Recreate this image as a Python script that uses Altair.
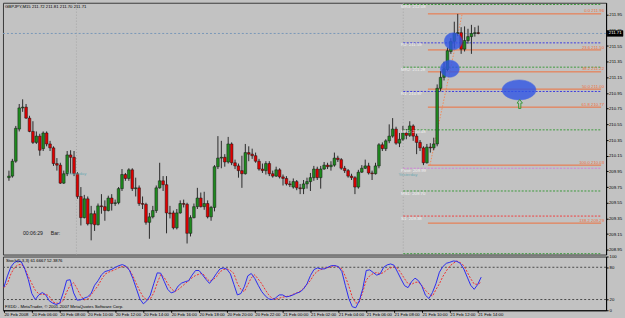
import json
import altair as alt
import pandas as pd

# ---------------- data ----------------
bar_index = list(range(138))  # M15 bars from 20 Feb 2008 04:00

opens = [
    209.87, 209.89, 210.08, 210.49, 210.76, 210.77, 210.63, 210.46, 210.32, 210.40,
    210.24, 210.44, 210.30, 210.25, 210.05, 210.03, 209.80, 209.92, 210.16, 210.13,
    209.92, 209.63, 209.36, 209.60, 209.28, 209.41, 209.27, 209.51, 209.50, 209.45,
    209.61, 209.54, 209.55, 209.73, 209.91, 209.86, 209.97, 209.73, 209.74, 209.54,
    209.53, 209.30, 209.37, 209.45, 209.74, 209.83, 209.78, 209.42, 209.42, 209.23,
    209.42, 209.54, 209.53, 209.16, 209.36, 209.50, 209.61, 209.50, 209.54, 209.37,
    209.49, 210.01, 210.12, 210.13, 210.07, 210.30, 210.06, 210.02, 209.96, 209.92,
    210.19, 210.17, 210.15, 210.08, 209.98, 209.96, 210.05, 209.92, 209.89, 209.97,
    209.88, 209.86, 209.79, 209.75, 209.82, 209.74, 209.73, 209.79, 209.82, 209.87,
    209.98, 209.87, 209.98, 210.03, 210.01, 210.03, 210.12, 210.10, 209.99, 209.96,
    209.89, 209.87, 209.75, 209.94, 209.99, 210.02, 209.93, 209.92, 210.02, 210.29,
    210.24, 210.34, 210.40, 210.49, 210.31, 210.36, 210.44, 210.41, 210.53, 210.40,
    210.32, 210.25, 210.06, 210.26, 210.25, 210.30, 211.01, 211.15, 211.25, 211.48,
    211.61, 211.71, 211.72, 211.51, 211.62, 211.67, 211.71, 211.72]
highs = [
    209.96, 210.11, 210.53, 210.81, 210.87, 210.81, 210.66, 210.59, 210.46, 210.43,
    210.46, 210.46, 210.34, 210.27, 210.12, 210.06, 209.96, 210.21, 210.22, 210.21,
    209.94, 209.75, 209.65, 209.63, 209.51, 209.45, 209.54, 209.66, 209.58, 209.64,
    209.66, 209.59, 209.75, 209.98, 209.93, 209.99, 209.99, 209.87, 209.77, 209.63,
    209.55, 209.42, 209.51, 209.77, 210.06, 209.89, 209.89, 209.51, 209.45, 209.47,
    209.58, 209.59, 209.55, 209.39, 209.54, 209.74, 209.68, 209.69, 209.58, 209.51,
    210.03, 210.40, 210.34, 210.17, 210.39, 210.32, 210.10, 210.05, 210.15, 210.30,
    210.27, 210.24, 210.19, 210.11, 210.05, 210.08, 210.08, 209.96, 210.01, 209.99,
    209.91, 209.89, 209.83, 209.86, 209.84, 209.79, 209.84, 209.87, 209.93, 210.02,
    210.01, 210.02, 210.07, 210.06, 210.08, 210.19, 210.15, 210.12, 210.02, 209.98,
    209.92, 209.89, 209.97, 210.03, 210.10, 210.06, 209.96, 210.06, 210.31, 210.32,
    210.36, 210.55, 210.63, 210.52, 210.44, 210.53, 210.49, 210.59, 210.55, 210.43,
    210.35, 210.27, 210.30, 210.31, 210.38, 211.06, 211.23, 211.35, 211.53, 211.65,
    211.86, 211.96, 211.79, 211.80, 211.77, 211.82, 211.79, 211.81]
lows = [
    209.83, 209.87, 210.06, 210.46, 210.71, 210.62, 210.45, 210.30, 210.30, 210.15,
    210.21, 210.27, 210.21, 210.02, 209.96, 209.79, 209.79, 209.89, 209.92, 209.89,
    209.60, 209.26, 209.35, 209.26, 209.07, 209.19, 209.26, 209.41, 209.32, 209.44,
    209.45, 209.51, 209.53, 209.70, 209.83, 209.83, 209.70, 209.63, 209.51, 209.47,
    209.27, 209.09, 209.35, 209.42, 209.73, 209.70, 209.16, 209.35, 209.21, 209.21,
    209.41, 209.49, 209.03, 209.12, 209.35, 209.47, 209.49, 209.46, 209.35, 209.32,
    209.44, 209.98, 209.99, 210.01, 210.05, 210.03, 209.98, 209.87, 209.74, 209.91,
    210.08, 210.11, 210.06, 209.96, 209.93, 209.91, 209.89, 209.87, 209.88, 209.86,
    209.77, 209.77, 209.75, 209.73, 209.71, 209.66, 209.66, 209.73, 209.70, 209.83,
    209.84, 209.73, 209.97, 209.98, 209.96, 210.01, 210.07, 209.97, 209.93, 209.87,
    209.84, 209.66, 209.73, 209.93, 209.98, 209.91, 209.84, 209.91, 209.99, 210.21,
    210.21, 210.31, 210.38, 210.29, 210.26, 210.34, 210.36, 210.39, 210.34, 210.17,
    210.21, 210.03, 210.05, 210.19, 210.22, 210.27, 210.97, 211.11, 211.23, 211.45,
    211.52, 211.68, 211.45, 211.48, 211.58, 211.45, 211.67, 211.70]
closes = [
    209.89, 210.08, 210.50, 210.76, 210.77, 210.63, 210.46, 210.32, 210.40, 210.22,
    210.44, 210.30, 210.25, 210.05, 210.03, 209.80, 209.92, 210.16, 210.13, 209.92,
    209.63, 209.36, 209.60, 209.28, 209.41, 209.27, 209.51, 209.50, 209.45, 209.61,
    209.54, 209.55, 209.73, 209.91, 209.86, 209.97, 209.73, 209.74, 209.54, 209.53,
    209.30, 209.37, 209.45, 209.74, 209.83, 209.78, 209.42, 209.41, 209.23, 209.42,
    209.54, 209.53, 209.16, 209.36, 209.50, 209.61, 209.50, 209.54, 209.37, 209.49,
    210.01, 210.12, 210.13, 210.07, 210.30, 210.06, 210.02, 209.96, 209.92, 210.19,
    210.17, 210.15, 210.08, 209.98, 209.96, 210.05, 209.92, 209.89, 209.97, 209.88,
    209.86, 209.79, 209.78, 209.82, 209.74, 209.73, 209.79, 209.82, 209.87, 209.98,
    209.87, 209.98, 210.03, 210.01, 210.03, 210.12, 210.10, 209.99, 209.96, 209.89,
    209.87, 209.75, 209.94, 209.99, 210.02, 209.93, 209.92, 210.02, 210.29, 210.24,
    210.34, 210.40, 210.49, 210.31, 210.36, 210.44, 210.41, 210.53, 210.40, 210.32,
    210.25, 210.06, 210.26, 210.25, 210.30, 211.01, 211.15, 211.26, 211.49, 211.61,
    211.71, 211.72, 211.51, 211.62, 211.67, 211.71, 211.72, 211.71]

stoch_main = [
    43.3, 64, 81, 89, 91.7, 90, 76.4, 56.8, 31, 20,
    28.6, 33, 28.6, 17.6, 13.3, 10.8, 13.3, 32.3, 55.6, 56.8,
    32.3, 18.8, 19.4, 22.5, 24.9, 31, 46.4, 55, 66, 72,
    74, 76.4, 80, 83.1, 85, 82, 74.6, 59.2, 40.2, 21.2,
    12, 17.6, 28, 49.4, 69.6, 69, 53.7, 39, 32.3, 34.7,
    45.1, 50.6, 53.1, 55, 65.4, 74, 74, 66, 57.4, 50,
    58.6, 68.4, 77, 78.8, 76.4, 67.8, 48.2, 28.6, 31.1, 43.9,
    64.1, 68.4, 59.2, 46.4, 34.7, 26.8, 21.2, 20, 23.1, 28.6,
    28.6, 24.9, 26.1, 28.6, 31.7, 34.1, 39.6, 49.4, 64.7, 75.8,
    78.8, 77, 77, 80, 83.1, 83.1, 81.3, 72, 46.4, 21.9,
    6.5, 4.7, 17.6, 40.2, 74, 75.2, 70.3, 65.4, 67.8, 80,
    84.4, 86.2, 83.7, 70.9, 58, 45.8, 42.1, 53.1, 59.8, 55,
    44.5, 28, 21.9, 33, 49.4, 70.9, 81.3, 87.4, 89.3, 91.7,
    91, 87.4, 77, 61.7, 46.4, 39, 48, 61.67]
stoch_signal = [
    42.1, 50, 67.8, 79.4, 84.4, 85.6, 77.6, 62.9, 49.4, 37.2,
    30.4, 29.2, 30.4, 26.1, 15.7, 13.3, 12.7, 18.2, 34.1, 46.4,
    51.3, 40.2, 27.4, 19.4, 20.6, 28.6, 37.2, 45.8, 57.4, 67.2,
    70.9, 73.3, 75.8, 79.4, 81.3, 81.3, 75.8, 64.1, 49.4, 36,
    24.3, 19.4, 21.2, 32.3, 50.6, 66.6, 61.1, 49.4, 40.2, 34.7,
    38.4, 43.9, 49.4, 55, 60.5, 64.7, 67.2, 69, 60.5, 54.3,
    56.8, 62.3, 71.5, 75.8, 77, 74, 68.4, 50, 39, 34.7,
    47.6, 60.5, 66, 58, 49.4, 38.4, 28.6, 21.9, 20.6, 22.5,
    24.3, 25.5, 26.8, 29.8, 32.3, 35.3, 40.8, 48.2, 55.6, 66.6,
    72.7, 75.8, 78.2, 79.4, 80.7, 83.1, 80, 77, 62.9, 45.1,
    24.3, 13.3, 15.1, 34.1, 56.2, 64.1, 68.4, 70.3, 67.8, 70.3,
    75.8, 78.8, 81.3, 78.2, 69, 58.6, 49.4, 48.2, 51.9, 52.5,
    45.8, 37.2, 30.4, 26.1, 38.4, 49.4, 62.9, 73.3, 82.5, 87.4,
    91.7, 88.6, 83.1, 70.9, 58.6, 48.8, 48.2, 52.39]

time_labels = ["20 Feb 2008", "20 Feb 06:00", "20 Feb 08:00", "20 Feb 10:00",
               "20 Feb 12:00", "20 Feb 14:00", "20 Feb 16:00", "20 Feb 18:00",
               "20 Feb 20:00", "20 Feb 22:00", "21 Feb 00:00", "21 Feb 02:00",
               "21 Feb 04:00", "21 Feb 06:00", "21 Feb 08:00", "21 Feb 10:00",
               "21 Feb 12:00", "21 Feb 14:00"]
time_label_bars = [0, 8, 16, 24, 32, 40, 48, 56, 64, 72, 80, 88, 96, 104, 112, 120, 128, 136]

price_ticks = [211.95, 211.75, 211.55, 211.35, 211.15, 210.95, 210.75, 210.55,
               210.35, 210.15, 209.95, 209.75, 209.55, 209.35, 209.15, 208.95]
stoch_ticks = [0, 20, 80, 100]
stoch_levels = [20, 80]

pivot_names = ["MR3", "R2", "MR2", "R1", "MR1", "Pivot", "MS1", "S1", "MS2"]
pivot_levels = [212.08, 211.59, 211.28, 210.97, 210.48, 209.99, 209.70, 209.38, 208.90]
pivot_kinds = ["mid", "res", "mid", "res", "mid", "piv", "mid", "sup", "mid"]
pivot_start_bar = 115.1

fib_ratios = ["0.0", "23.6", "38.2", "50.0", "61.8", "100.0", "138.2"]
fib_levels = [211.96, 211.50, 211.22, 211.00, 210.77, 210.03, 209.29]
fib_start_bar = 122.3
fib_trend_bars = [122.9, 132.3]
fib_trend_prices = [210.03, 211.96]

separator_bars = [19.7, 115.1]
ellipse_bars = [129.7, 128.7, 148.9]
ellipse_prices = [211.61, 211.26, 210.99]
arrow_bar = 149.1
arrow_price = 210.81
bid_price = 211.71
yesterday_bars = [17.1, 113.7]
yesterday_prices = [209.92, 209.91]

title_text = "GBPJPY,M15  211.72 211.81 211.70 211.71"
stoch_text = "Stoch(5,3,3) 61.6667 52.3876"
copyright_text = "FXDD - MetaTrader, \u00a9 2001-2007 MetaQuotes Software Corp."

# ---------------- chart ----------------
X_DOMAIN = [-0.286, 172.857]
PRICE_DOMAIN = [208.889, 212.102]
W = 606
MAIN_H = 253
STOCH_H = 54
FONT = "Liberation Sans"
FS = 4.3
BG = "#C2C2C2"

xs = alt.Scale(domain=X_DOMAIN, nice=False, zero=False)
ys = alt.Scale(domain=PRICE_DOMAIN, nice=False, zero=False)
sys_ = alt.Scale(domain=[0, 100], nice=False, zero=False)

# right-aligned labels so that their bounds never push past the window edge
price_axis = alt.Axis(orient="right", values=price_ticks, format=".2f", title=None,
                      grid=False, labelFontSize=FS, labelColor="#000000", tickSize=2,
                      tickColor="#000000", domainColor="#000000", labelPadding=13.5,
                      labelAlign="right", labelFont=FONT, labelOverlap=False,
                      labelFlush=False, labelBound=False)
xnone = alt.X("bar:Q", scale=xs, axis=None)

candles = pd.DataFrame({"bar": bar_index, "open": opens, "high": highs,
                        "low": lows, "close": closes})
candles["dir"] = ["up" if c >= o else "down" for o, c in zip(opens, closes)]

seps = alt.Chart(pd.DataFrame({"bar": separator_bars})).mark_rule(
    color="#A6A6A6", strokeDash=[1, 2], strokeWidth=1).encode(x=xnone)

bid = alt.Chart(pd.DataFrame({"p": [bid_price]})).mark_rule(
    color="#7A98B8", strokeDash=[2, 2], strokeWidth=1).encode(
    y=alt.Y("p:Q", scale=ys, axis=price_axis))

piv = pd.DataFrame({"name": pivot_names, "level": pivot_levels, "kind": pivot_kinds})
piv["start"] = pivot_start_bar
piv["end"] = X_DOMAIN[1]
piv["label"] = [f"{n}: {v:.2f}" for n, v in zip(pivot_names, pivot_levels)]
piv_color = alt.Scale(domain=["mid", "res", "piv", "sup"],
                      range=["#3C9A3C", "#3A3AE0", "#D080D8", "#F04040"])
pivot_lines = alt.Chart(piv).mark_rule(strokeDash=[2, 1.5], strokeWidth=1).encode(
    x=alt.X("start:Q", scale=xs, axis=None), x2="end:Q",
    y=alt.Y("level:Q", scale=ys, axis=price_axis),
    color=alt.Color("kind:N", scale=piv_color, legend=None))
pivot_text = alt.Chart(piv[piv["name"] != "MS2"]).mark_text(
    align="left", baseline="top", dy=0.6, fontSize=FS, font=FONT, color="#F2F2F2").encode(
    x=alt.value(400), y=alt.Y("level:Q", scale=ys, axis=price_axis), text="label:N")

fib = pd.DataFrame({"ratio": fib_ratios, "level": fib_levels})
fib["start"] = fib_start_bar
fib["end"] = X_DOMAIN[1]
fib["label"] = [f"{r}  {v:.2f}" for r, v in zip(fib_ratios, fib_levels)]
fib_lines = alt.Chart(fib).mark_rule(color="#F0703C", strokeWidth=1).encode(
    x=alt.X("start:Q", scale=xs, axis=None), x2="end:Q",
    y=alt.Y("level:Q", scale=ys, axis=price_axis))
fib_text = alt.Chart(fib).mark_text(
    align="right", baseline="bottom", dy=-0.4, fontSize=FS, font=FONT, color="#F0703C").encode(
    x=alt.value(604), y=alt.Y("level:Q", scale=ys, axis=price_axis), text="label:N")
fib_trend = alt.Chart(pd.DataFrame({"bar": fib_trend_bars, "p": fib_trend_prices})).mark_line(
    color="#F08A5A", strokeDash=[1.5, 1.5], strokeWidth=1).encode(
    x=xnone, y=alt.Y("p:Q", scale=ys, axis=price_axis))

wicks = alt.Chart(candles).mark_rule(color="#2A2A2A", strokeWidth=1).encode(
    x=xnone, y=alt.Y("low:Q", scale=ys, axis=price_axis), y2="high:Q")
bodies = alt.Chart(candles).mark_bar(size=2.7, stroke="#141414", strokeWidth=0.5).encode(
    x=xnone, y=alt.Y("open:Q", scale=ys, axis=price_axis), y2="close:Q",
    fill=alt.Fill("dir:N", scale=alt.Scale(domain=["up", "down"],
                                           range=["#1E8A1E", "#E00000"]), legend=None))

ell_df = pd.DataFrame({"bar": ellipse_bars, "p": ellipse_prices})
ellipse_shapes = [("M -1 0 A 1 0.95 0 1 0 1 0 A 1 0.95 0 1 0 -1 0 Z", 324),
                  ("M -1 0 A 1 0.9 0 1 0 1 0 A 1 0.9 0 1 0 -1 0 Z", 361),
                  ("M -1 0 A 1 0.59 0 1 0 1 0 A 1 0.59 0 1 0 -1 0 Z", 1156)]
ellipses = []
for i, (shape, size) in enumerate(ellipse_shapes):
    ellipses.append(alt.Chart(ell_df.iloc[[i]]).mark_point(
        shape=shape, size=size, filled=True, fill="#2F55E6", opacity=0.8,
        stroke="#2F55E6", strokeWidth=0.5).encode(
        x=xnone, y=alt.Y("p:Q", scale=ys, axis=price_axis)))

arrow = alt.Chart(pd.DataFrame({"bar": [arrow_bar], "p": [arrow_price]})).mark_point(
    shape="M 0 -1 L 0.6 -0.2 L 0.25 -0.2 L 0.25 1 L -0.25 1 L -0.25 -0.2 L -0.6 -0.2 Z",
    size=81, filled=False, stroke="#3C9A3C", strokeWidth=1, opacity=1).encode(
    x=xnone, y=alt.Y("p:Q", scale=ys, axis=price_axis))

yest = alt.Chart(pd.DataFrame({"bar": yesterday_bars, "p": yesterday_prices,
                               "t": ["Yesterday", "Yesterday"]})).mark_text(
    align="left", baseline="middle", fontSize=FS, font=FONT, color="#6FAAB2").encode(
    x=xnone, y=alt.Y("p:Q", scale=ys, axis=price_axis), text="t:N")

price_box = alt.Chart(pd.DataFrame({"p": [bid_price]})).mark_point(
    shape="M -1 -0.36 L 1 -0.36 L 1 0.36 L -1 0.36 Z", size=256, filled=True,
    fill="#000000", stroke="#000000", strokeWidth=0.5, opacity=1).encode(
    x=alt.value(615), y=alt.Y("p:Q", scale=ys, axis=price_axis))
price_box_text = alt.Chart(pd.DataFrame({"p": [bid_price], "t": [f"{bid_price:.2f}"]})).mark_text(
    align="right", baseline="middle", fontSize=FS, font=FONT, color="#FFFFFF").encode(
    x=alt.value(621.5), y=alt.Y("p:Q", scale=ys, axis=price_axis), text="t:N")

title_mark = alt.Chart(pd.DataFrame({"t": [title_text]})).mark_text(
    align="left", baseline="middle", fontSize=FS, font=FONT, color="#000000").encode(
    x=alt.value(2), y=alt.value(4), text="t:N")
timer_mark = alt.Chart(pd.DataFrame({"t": ["00:06:29"]})).mark_text(
    align="left", baseline="middle", fontSize=5.2, font=FONT, color="#1A1A1A").encode(
    x=alt.value(20), y=alt.value(231), text="t:N")
bar_mark = alt.Chart(pd.DataFrame({"t": ["Bar:"]})).mark_text(
    align="left", baseline="middle", fontSize=5.2, font=FONT, color="#1A1A1A").encode(
    x=alt.value(48), y=alt.value(231), text="t:N")

main = alt.layer(seps, bid, pivot_lines, fib_lines, fib_trend, wicks, bodies,
                 *ellipses, arrow, pivot_text, fib_text, yest, price_box,
                 price_box_text, title_mark, timer_mark, bar_mark).properties(
    width=W, height=MAIN_H)

# stochastic pane
stoch_df = pd.DataFrame({"bar": bar_index, "main": stoch_main, "signal": stoch_signal})
stoch_axis = alt.Axis(orient="right", values=stoch_ticks, title=None, grid=False,
                      labelFontSize=FS, labelColor="#000000", tickSize=2,
                      tickColor="#000000", domainColor="#000000", labelPadding=1,
                      labelFont=FONT, labelOverlap=False, labelFlush=False, labelBound=False)
label_expr = json.dumps(time_labels) + "[round(datum.value / 8)]"
time_axis = alt.Axis(orient="bottom", values=time_label_bars, labelExpr=label_expr,
                     title=None, grid=False, labelAlign="left", labelFontSize=FS,
                     labelFont=FONT, labelColor="#000000", tickSize=2, tickColor="#000000",
                     domainColor="#000000", labelPadding=0, labelOverlap=False,
                     labelFlush=False, labelBound=False)

levels = alt.Chart(pd.DataFrame({"v": stoch_levels})).mark_rule(
    color="#4A4A4A", strokeDash=[2, 2], strokeWidth=1).encode(
    y=alt.Y("v:Q", scale=sys_, axis=stoch_axis))
sig_line = alt.Chart(stoch_df).mark_line(color="#F03030", strokeDash=[2, 1.5], strokeWidth=1).encode(
    x=alt.X("bar:Q", scale=xs, axis=time_axis),
    y=alt.Y("signal:Q", scale=sys_, axis=stoch_axis))
main_line = alt.Chart(stoch_df).mark_line(color="#2B2BEF", strokeWidth=1).encode(
    x=alt.X("bar:Q", scale=xs, axis=time_axis),
    y=alt.Y("main:Q", scale=sys_, axis=stoch_axis))
stoch_title = alt.Chart(pd.DataFrame({"t": [stoch_text]})).mark_text(
    align="left", baseline="middle", fontSize=FS, font=FONT, color="#000000").encode(
    x=alt.value(3), y=alt.value(4), text="t:N")
copy_mark = alt.Chart(pd.DataFrame({"t": [copyright_text]})).mark_text(
    align="left", baseline="middle", fontSize=FS, font=FONT, color="#000000").encode(
    x=alt.value(2), y=alt.value(51), text="t:N")

stoch = alt.layer(levels, sig_line, main_line, stoch_title, copy_mark).properties(
    width=W, height=STOCH_H)

chart = alt.vconcat(main, stoch, spacing=2, bounds="flush").properties(
    background=BG,
    padding={"left": 1, "top": 1, "right": 0, "bottom": 0},
).configure_view(stroke="#3A3A3A", strokeWidth=1, fill=BG)

chart.save("out.html", embed_options={"renderer": "svg", "actions": False})
